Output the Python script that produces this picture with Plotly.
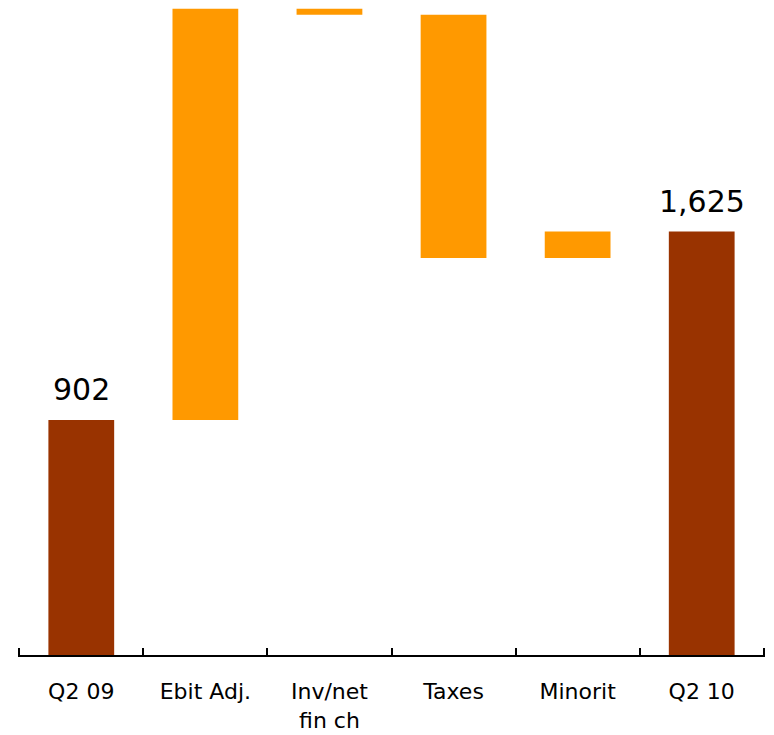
import plotly.graph_objects as go

# Net income bridge, Q2 09 -> Q2 10
categories = ["Q2 09", "Ebit Adj.", "Inv/net<br>fin ch", "Taxes", "Minorit", "Q2 10"]
measures = ["absolute", "relative", "relative", "relative", "relative", "total"]
values = [902, 1578, -23, -933, 101, 1625]

BROWN = "#993300"
ORANGE = "#FF9900"
FONT = "DejaVu Sans, Verdana, sans-serif"

fig = go.Figure(
    go.Waterfall(
        x=categories,
        y=values,
        measure=measures,
        width=0.53,
        increasing=dict(marker=dict(color=ORANGE)),
        decreasing=dict(marker=dict(color=ORANGE)),
        totals=dict(marker=dict(color=BROWN)),
        connector=dict(visible=False),
        hoverinfo="skip",
    )
)

# value labels above the start and end totals
for cat, m, v in zip(categories, measures, values):
    if m in ("absolute", "total"):
        fig.add_annotation(
            x=cat, y=v, text=f"{v:,}", showarrow=False,
            yanchor="bottom", yshift=11,
            font=dict(family=FONT, size=30, color="black"),
        )

fig.update_layout(
    width=774,
    height=735,
    margin=dict(l=18, r=9, t=0, b=80),
    paper_bgcolor="white",
    plot_bgcolor="white",
    showlegend=False,
    font=dict(family=FONT, color="black"),
)
fig.update_xaxes(
    type="category",
    range=[-0.51, 5.51],
    showline=True,
    linecolor="black",
    linewidth=1.5,
    ticks="inside",
    ticklen=7,
    tickwidth=1.5,
    tickcolor="black",
    tickson="boundaries",
    showgrid=False,
    tickfont=dict(family=FONT, size=22, color="black"),
    ticklabelstandoff=16,
)
fig.update_yaxes(range=[0, 2514], visible=False, showgrid=False, zeroline=False)

fig.write_html("out.html")
